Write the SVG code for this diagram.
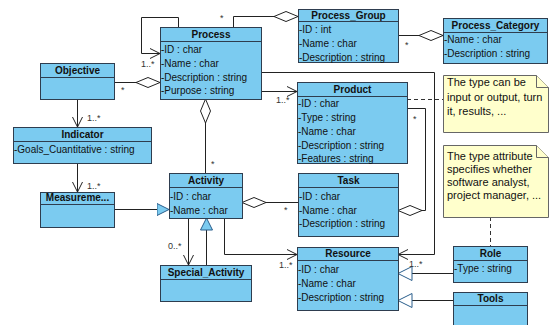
<svg xmlns="http://www.w3.org/2000/svg" width="549" height="325" viewBox="0 0 549 325">
<style>
.box{fill:#7BCBF0;stroke:#2E3D4F;stroke-width:1}
.sep{stroke:#2E3D4F;stroke-width:1}
.t{font-family:"Liberation Sans",Arial,sans-serif;font-size:10px;font-weight:bold;text-anchor:middle;fill:#111}
.a{font-family:"Liberation Sans",Arial,sans-serif;font-size:10px;fill:#111}
.n{font-family:"Liberation Sans",Arial,sans-serif;font-size:11px;fill:#111}
.note{fill:#FFFFCC;stroke:#666;stroke-width:1}
.c{fill:none;stroke:#222;stroke-width:1}
.d{fill:none;stroke:#333;stroke-width:1;stroke-dasharray:4,3}
.m{font-family:"Liberation Sans",Arial,sans-serif;font-size:9px;fill:#333}
</style>
<defs>
<marker id="arr" markerUnits="userSpaceOnUse" markerWidth="12" markerHeight="12" refX="11" refY="6" orient="auto">
<path d="M1,1 L11,6 L1,11" fill="none" stroke="#222" stroke-width="1"/>
</marker>
<marker id="dia" markerUnits="userSpaceOnUse" markerWidth="26" markerHeight="12" refX="24.5" refY="6" orient="auto">
<path d="M0.5,6 L12.5,1 L24.5,6 L12.5,11 Z" fill="#fff" stroke="#222" stroke-width="1"/>
</marker>
<marker id="triB" markerUnits="userSpaceOnUse" markerWidth="14" markerHeight="14" refX="12.5" refY="7" orient="auto">
<path d="M0.5,1 L12.5,7 L0.5,13 Z" fill="#7BCBF0" stroke="#2A5E8C" stroke-width="1"/>
</marker>
<marker id="triW" markerUnits="userSpaceOnUse" markerWidth="16" markerHeight="16" refX="14.5" refY="8" orient="auto">
<path d="M0.5,1 L14.5,8 L0.5,15 Z" fill="#fff" stroke="#2A5E8C" stroke-width="1"/>
</marker>
</defs>
<rect width="549" height="325" fill="#fff"/>

<g id="connectors">
<path class="c" d="M178.5,27 V17.5 H141.5 V53.5 H160" marker-end="url(#arr)"/>
<path class="c" d="M233.5,27 V16.5 H298" marker-end="url(#dia)"/>
<path class="c" d="M398,35.5 H443" marker-end="url(#dia)"/>
<path class="c" d="M114,82.5 H160" marker-end="url(#dia)"/>
<path class="c" d="M261,91.5 H297" marker-end="url(#arr)"/>
<path class="c" d="M261,72.5 H434.5 V254.5 H398" marker-end="url(#arr)"/>
<path class="c" d="M407,108.5 H425.5 V210.5 H398" marker-end="url(#dia)"/>
<path class="d" d="M407,99.5 H443"/>
<path class="c" d="M205.5,173 V99" marker-end="url(#dia)"/>
<path class="c" d="M298,202.5 H242" marker-end="url(#dia)"/>
<path class="c" d="M77.5,99 V127" marker-end="url(#arr)"/>
<path class="c" d="M77.5,163 V192" marker-end="url(#arr)"/>
<path class="c" d="M114,209.5 H169" marker-end="url(#triB)"/>
<path class="c" d="M206.5,265 V218" marker-end="url(#triB)"/>
<path class="c" d="M188.5,218 V265" marker-end="url(#arr)"/>
<path class="c" d="M224.5,218 V254.5 H297" marker-end="url(#arr)"/>
<path class="c" d="M453,273.5 H398" marker-end="url(#triW)"/>
<path class="c" d="M453,300.5 H398" marker-end="url(#triW)"/>
<path class="d" d="M490.5,217 V246"/>
<text class="m" x="141" y="67">1..*</text>
<text class="m" x="220" y="21">*</text>
<text class="m" x="405" y="48">*</text>
<text class="m" x="121" y="93">*</text>
<text class="m" x="276" y="103">1..*</text>
<text class="m" x="409" y="267">1..*</text>
<text class="m" x="413" y="122">*</text>
<text class="m" x="211" y="167">*</text>
<text class="m" x="284" y="213">*</text>
<text class="m" x="87" y="121">1..*</text>
<text class="m" x="87" y="189">1..*</text>
<text class="m" x="168" y="249">0..*</text>
<text class="m" x="279" y="268">1..*</text>
</g>

<g id="Process">
<rect class="box" x="160.5" y="27.5" width="101" height="72"/>
<line class="sep" x1="160.5" y1="41.5" x2="261.5" y2="41.5"/>
<text class="t" x="211" y="38">Process</text>
<text class="a" x="161" y="53">-ID : char</text>
<text class="a" x="161" y="67">-Name : char</text>
<text class="a" x="161" y="81">-Description : string</text>
<text class="a" x="161" y="94">-Purpose : string</text>
</g>

<g id="Process_Group">
<rect class="box" x="298.5" y="9.5" width="100" height="53"/>
<line class="sep" x1="298.5" y1="21.5" x2="398.5" y2="21.5"/>
<text class="t" x="348.5" y="19">Process_Group</text>
<text class="a" x="299" y="33">-ID : int</text>
<text class="a" x="299" y="47">-Name : char</text>
<text class="a" x="299" y="61">-Description : string</text>
</g>

<g id="Process_Category">
<rect class="box" x="443.5" y="18.5" width="104" height="45"/>
<line class="sep" x1="443.5" y1="32.5" x2="547.5" y2="32.5"/>
<text class="t" x="495.5" y="29">Process_Category</text>
<text class="a" x="444" y="43">-Name : char</text>
<text class="a" x="444" y="57">-Description : string</text>
</g>

<g id="Objective">
<rect class="box" x="40.5" y="63.5" width="74" height="36"/>
<line class="sep" x1="40.5" y1="77.5" x2="114.5" y2="77.5"/>
<text class="t" x="77.5" y="74">Objective</text>
</g>

<g id="Indicator">
<rect class="box" x="13.5" y="127.5" width="138" height="36"/>
<line class="sep" x1="13.5" y1="141.5" x2="151.5" y2="141.5"/>
<text class="t" x="82.5" y="138">Indicator</text>
<text class="a" x="14" y="153">-Goals_Cuantitative : string</text>
</g>

<g id="Measurement">
<rect class="box" x="40.5" y="192.5" width="74" height="35"/>
<line class="sep" x1="40.5" y1="204.5" x2="114.5" y2="204.5"/>
<text class="t" x="77.5" y="201">Measureme...</text>
</g>

<g id="Activity">
<rect class="box" x="169.5" y="173.5" width="73" height="45"/>
<line class="sep" x1="169.5" y1="187.5" x2="242.5" y2="187.5"/>
<text class="t" x="206" y="184">Activity</text>
<text class="a" x="170" y="200">-ID : char</text>
<text class="a" x="170" y="214">-Name : char</text>
</g>

<g id="Special_Activity">
<rect class="box" x="160.5" y="265.5" width="91" height="36"/>
<line class="sep" x1="160.5" y1="279.5" x2="251.5" y2="279.5"/>
<text class="t" x="206" y="276">Special_Activity</text>
</g>

<g id="Product">
<rect class="box" x="297.5" y="82.5" width="110" height="81"/>
<line class="sep" x1="297.5" y1="96.5" x2="407.5" y2="96.5"/>
<text class="t" x="352.5" y="93">Product</text>
<text class="a" x="298" y="107">-ID : char</text>
<text class="a" x="298" y="121">-Type : string</text>
<text class="a" x="298" y="135">-Name : char</text>
<text class="a" x="298" y="149">-Description : string</text>
<text class="a" x="298" y="162">-Features : string</text>
</g>

<g id="Task">
<rect class="box" x="298.5" y="173.5" width="100" height="63"/>
<line class="sep" x1="298.5" y1="187.5" x2="398.5" y2="187.5"/>
<text class="t" x="348.5" y="184">Task</text>
<text class="a" x="299" y="200">-ID : char</text>
<text class="a" x="299" y="214">-Name : char</text>
<text class="a" x="299" y="227">-Description : string</text>
</g>

<g id="Resource">
<rect class="box" x="297.5" y="247.5" width="101" height="63"/>
<line class="sep" x1="297.5" y1="260.5" x2="398.5" y2="260.5"/>
<text class="t" x="348" y="257">Resource</text>
<text class="a" x="298" y="273">-ID : char</text>
<text class="a" x="298" y="287">-Name : char</text>
<text class="a" x="298" y="301">-Description : string</text>
</g>

<g id="Role">
<rect class="box" x="453.5" y="246.5" width="74" height="36"/>
<line class="sep" x1="453.5" y1="260.5" x2="527.5" y2="260.5"/>
<text class="t" x="490.5" y="257">Role</text>
<text class="a" x="454" y="272">-Type : string</text>
</g>

<g id="Tools">
<rect class="box" x="453.5" y="292.5" width="74" height="40"/>
<line class="sep" x1="453.5" y1="305.5" x2="527.5" y2="305.5"/>
<text class="t" x="490.5" y="302">Tools</text>
</g>

<g id="Note1">
<path class="note" d="M443.5,75.5 H536.5 L548.5,87.5 V132.5 H443.5 Z"/>
<path class="note" d="M536.5,75.5 V87.5 H548.5" fill="none"/>
<text class="n" x="447" y="86">The type can be</text>
<text class="n" x="447" y="101">input or output, turn</text>
<text class="n" x="447" y="115">it, results, ...</text>
</g>

<g id="Note2">
<path class="note" d="M443.5,145.5 H536.5 L548.5,157.5 V217.5 H443.5 Z"/>
<path class="note" d="M536.5,145.5 V157.5 H548.5" fill="none"/>
<text class="n" x="447" y="160">The type attribute</text>
<text class="n" x="447" y="173">specifies whether</text>
<text class="n" x="447" y="186">software analyst,</text>
<text class="n" x="447" y="199">project manager, ...</text>
</g>
</svg>
